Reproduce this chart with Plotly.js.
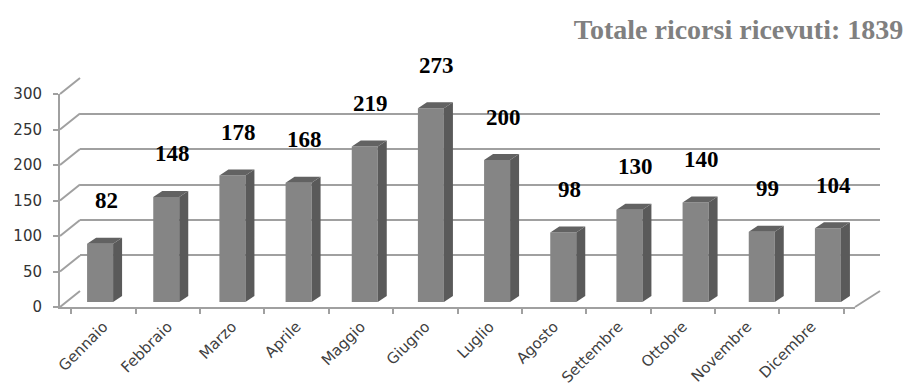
<!DOCTYPE html>
<html>
<head>
<meta charset="utf-8">
<script src="https://cdn.plot.ly/plotly-3.0.1.min.js"></script>
<style>html,body{margin:0;padding:0;background:#fff;}#chart{width:906px;height:388px;}</style>
</head>
<body>
<div id="chart"></div>
<script>
// ---- data ----
const months = ["Gennaio","Febbraio","Marzo","Aprile","Maggio","Giugno","Luglio","Agosto","Settembre","Ottobre","Novembre","Dicembre"];
const ricorsi = [82,148,178,168,219,273,200,98,130,140,99,104];
const yTicks = [0,50,100,150,200,250,300];
const titlePrefix = "Totale ricorsi ricevuti: ";

// ---- layout helpers (pixels -> paper) ----
const W = 906, H = 388;
const px = v => v / W;
const py = v => (H - v) / H;
const K = 0.71;              // px per unit
const frontZero = 307, backZero = 291, barZero = 302;
const total = ricorsi.reduce((a, b) => a + b, 0);

const idx = months.map((m, i) => i);
const barW = 0.393, dx = 0.136, dy = 8.45;

// side faces and top faces computed from values
const sideX = [], sideY = [], topX = [], topY = [];
ricorsi.forEach((v, i) => {
  const r = i + barW / 2, l = i - barW / 2;
  sideX.push(r, r + dx, r + dx, r, r, null);
  sideY.push(0, dy, v + dy, v, 0, null);
  topX.push(l, r, r + dx, l + dx, l, null);
  topY.push(v, v, v + dy, v + dy, v, null);
});

const gridCol = '#a0a0a0';

const traces = [
  {x: [0], y: [0], xaxis: 'x', yaxis: 'y', mode: 'markers', marker: {opacity: 0}, hoverinfo: 'skip', showlegend: false},
  {x: months, y: ricorsi.map(() => 0), xaxis: 'x2', yaxis: 'y2', mode: 'markers', marker: {opacity: 0}, hoverinfo: 'skip', showlegend: false},
  {type: 'bar', x: idx, y: ricorsi, width: barW, xaxis: 'x3', yaxis: 'y3',
   marker: {color: '#858585', line: {width: 0}}, showlegend: false, hoverinfo: 'y'},
  {x: sideX, y: sideY, xaxis: 'x3', yaxis: 'y3', mode: 'lines', fill: 'toself', fillcolor: '#5a5a5a',
   line: {width: 0, color: '#5a5a5a'}, hoverinfo: 'skip', showlegend: false},
  {x: topX, y: topY, xaxis: 'x3', yaxis: 'y3', mode: 'lines', fill: 'toself', fillcolor: '#626262',
   line: {width: 0, color: '#626262'}, hoverinfo: 'skip', showlegend: false}
];

const annotations = ricorsi.map((v, i) => ({
  x: i, y: v, xref: 'x3', yref: 'y3', text: String(v), showarrow: false,
  xshift: 6, yshift: 43, yanchor: 'middle',
  font: {family: 'Liberation Serif', size: 23, color: '#000', weight: 700}
}));

const shapes = [];
yTicks.forEach(t => {
  shapes.push({type: 'line', xref: 'paper', yref: 'paper', layer: 'below',
    x0: px(60), y0: py(frontZero - K * t), x1: px(80), y1: py(backZero - K * t),
    line: {color: gridCol, width: 2}});
});
shapes.push({type: 'line', xref: 'paper', yref: 'paper', layer: 'below',
  x0: px(855), y0: py(frontZero), x1: px(880), y1: py(backZero),
  line: {color: gridCol, width: 2}});

const layout = {
  width: W, height: H,
  margin: {l: 0, r: 0, t: 0, b: 0},
  paper_bgcolor: '#fff', plot_bgcolor: 'rgba(0,0,0,0)',
  showlegend: false,
  title: {text: titlePrefix + total, x: 0.997, xanchor: 'right', xref: 'paper',
          y: py(29), yanchor: 'middle', yref: 'paper',
          font: {family: 'Liberation Serif', size: 28, color: '#808080', weight: 700}},
  xaxis: {domain: [px(80), px(880)], range: [0, 1], visible: false, fixedrange: true},
  yaxis: {domain: [py(backZero), py(backZero - K * 300)], range: [-0.5, 300.5], anchor: 'x',
          tickvals: yTicks, showgrid: true, gridcolor: gridCol, gridwidth: 2,
          zeroline: false, showticklabels: false, ticks: '', showline: false, fixedrange: true},
  xaxis2: {domain: [px(60), px(855)], type: 'category', anchor: 'y2', categoryorder: 'array', categoryarray: months,
           showline: true, linecolor: gridCol, linewidth: 2, ticks: 'outside', tickson: 'boundaries',
           ticklen: 5, tickcolor: gridCol, tickwidth: 2, tickangle: -45, showgrid: false, ticklabelstandoff: 3,
           tickfont: {family: 'DejaVu Sans', size: 15, color: '#404040'}, fixedrange: true},
  yaxis2: {domain: [py(frontZero), py(frontZero - K * 300)], range: [0, 300], anchor: 'x2',
           tickvals: yTicks, showgrid: false, zeroline: false, showline: true, linecolor: gridCol, linewidth: 2,
           ticks: 'outside', ticklen: 5, tickcolor: gridCol, tickwidth: 2, ticklabelstandoff: 8,
           tickfont: {family: 'DejaVu Sans', size: 15, color: '#333333'}, fixedrange: true},
  xaxis3: {domain: [px(67), px(861)], range: [-0.5, 11.5], anchor: 'y3', visible: false, fixedrange: true},
  yaxis3: {domain: [py(barZero), py(barZero - K * 300)], range: [0, 300], anchor: 'x3', visible: false, fixedrange: true},
  annotations: annotations,
  shapes: shapes
};

Plotly.newPlot('chart', traces, layout, {displayModeBar: false, staticPlot: true});
</script>
</body>
</html>
